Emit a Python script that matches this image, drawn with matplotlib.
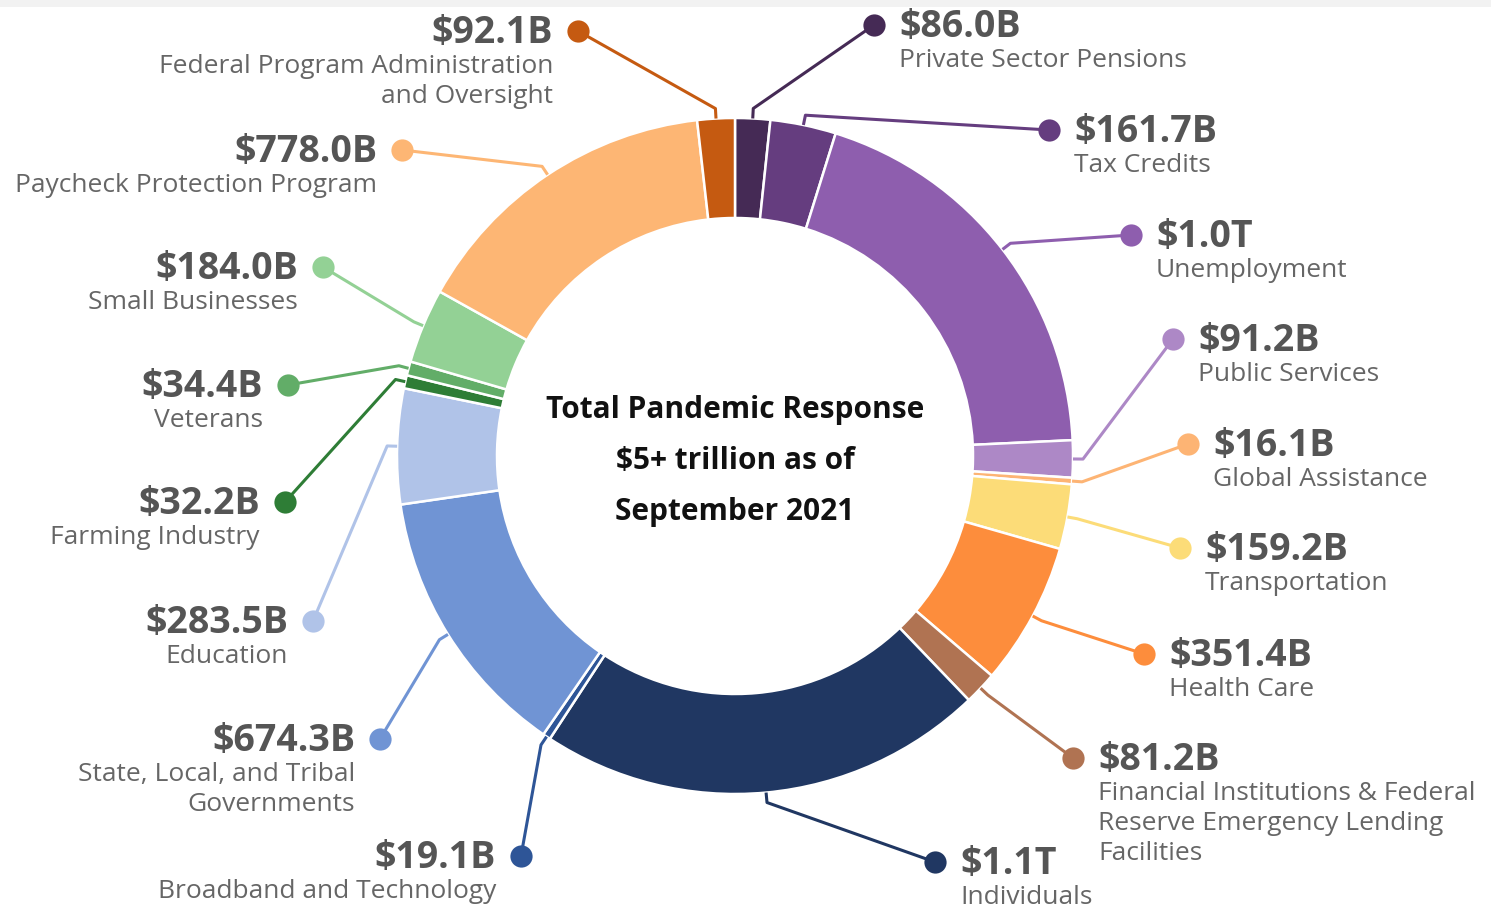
import numpy as np
import matplotlib
matplotlib.use("Agg")
import matplotlib.pyplot as plt
from matplotlib.patches import Rectangle

# ---------------- data ----------------
categories = [
    "Private Sector Pensions", "Tax Credits", "Unemployment", "Public Services",
    "Global Assistance", "Transportation", "Health Care",
    "Financial Institutions & Federal\nReserve Emergency Lending\nFacilities",
    "Individuals", "Broadband and Technology",
    "State, Local, and Tribal\nGovernments", "Education", "Farming Industry",
    "Veterans", "Small Businesses", "Paycheck Protection Program",
    "Federal Program Administration\nand Oversight",
]
values_b = [86.0, 161.7, 1000.0, 91.2, 16.1, 159.2, 351.4, 81.2, 1100.0,
            19.1, 674.3, 283.5, 32.2, 34.4, 184.0, 778.0, 92.1]
value_labels = ["$86.0B", "$161.7B", "$1.0T", "$91.2B", "$16.1B", "$159.2B",
                "$351.4B", "$81.2B", "$1.1T", "$19.1B", "$674.3B", "$283.5B",
                "$32.2B", "$34.4B", "$184.0B", "$778.0B", "$92.1B"]
colors = ["#452a55", "#653d7f", "#8e5eae", "#ad88c6", "#fdb474", "#fcdc78",
          "#fd8d3c", "#b07352", "#203762", "#2e5597", "#7094d4", "#b0c3e8",
          "#2e7d36", "#62ad68", "#93d195", "#fdb674", "#c55a11"]
center_lines = ["Total Pandemic Response", "$5+ trillion as of", "September 2021"]

# ---------------- layout (pixel coords, y down) ----------------
W, H = 1491, 905
CX, CY = 735, 456
R_OUT, RING_W = 338, 100
dots = [(874, 25), (1049, 130), (1131, 235), (1173, 339), (1188, 444),
        (1180, 548), (1144, 654), (1073, 758), (935, 862), (521, 856),
        (380, 739), (313, 621), (285, 502), (288, 385), (323, 267),
        (402, 150), (578, 31)]
sides = ["R"] * 9 + ["L"] * 8

def Y(py):
    return H - py

plt.rcParams['font.family'] = ['Open Sans', 'DejaVu Sans']
fig = plt.figure(figsize=(W / 100, H / 100), dpi=100)
fig.patch.set_facecolor("white")
ax = fig.add_axes([0, 0, 1, 1])

wedges, _ = ax.pie(values_b, colors=colors, startangle=90, counterclock=False,
                   center=(CX, Y(CY)), radius=R_OUT,
                   wedgeprops=dict(width=RING_W, edgecolor="white", linewidth=1.8))
ax.set_xlim(0, W)
ax.set_ylim(0, H)
ax.set_aspect("equal")
ax.axis("off")

# top light band
ax.add_patch(Rectangle((0, Y(7)), W, 7, facecolor="#f2f2f2", edgecolor="none", zorder=0))

VAL_C, LAB_C = "#555555", "#666666"
for w, col, (dx, dy), side, vl, cat in zip(wedges, colors, dots, sides, value_labels, categories):
    phi = np.deg2rad((w.theta1 + w.theta2) / 2)
    ax_x = CX + R_OUT * np.cos(phi)
    ax_y = Y(CY) + R_OUT * np.sin(phi)
    el_x = CX + (R_OUT + 10) * np.cos(phi)
    el_y = Y(CY) + (R_OUT + 10) * np.sin(phi)
    ax.plot([ax_x, el_x, dx], [ax_y, el_y, Y(dy)], color=col, lw=2.2,
            solid_capstyle="butt", zorder=3)
    ax.plot(dx, Y(dy), "o", ms=16, color=col, mec="none", zorder=4)
    if side == "R":
        tx, ha = dx + 25, "left"
    else:
        tx, ha = dx - 25, "right"
    ax.text(tx, Y(dy + 12), vl, ha=ha, va="baseline", fontsize=27,
            fontweight="bold", color=VAL_C)
    for i, line in enumerate(cat.split("\n")):
        ax.text(tx, Y(dy + 42 + 30 * i), line, ha=ha, va="baseline",
                fontsize=19, color=LAB_C)

for i, line in enumerate(center_lines):
    ax.text(CX, Y(418 + 51 * i), line, ha="center", va="baseline",
            fontsize=21.5, fontweight="bold", color="#111111")

fig.savefig("out.png", dpi=100)
